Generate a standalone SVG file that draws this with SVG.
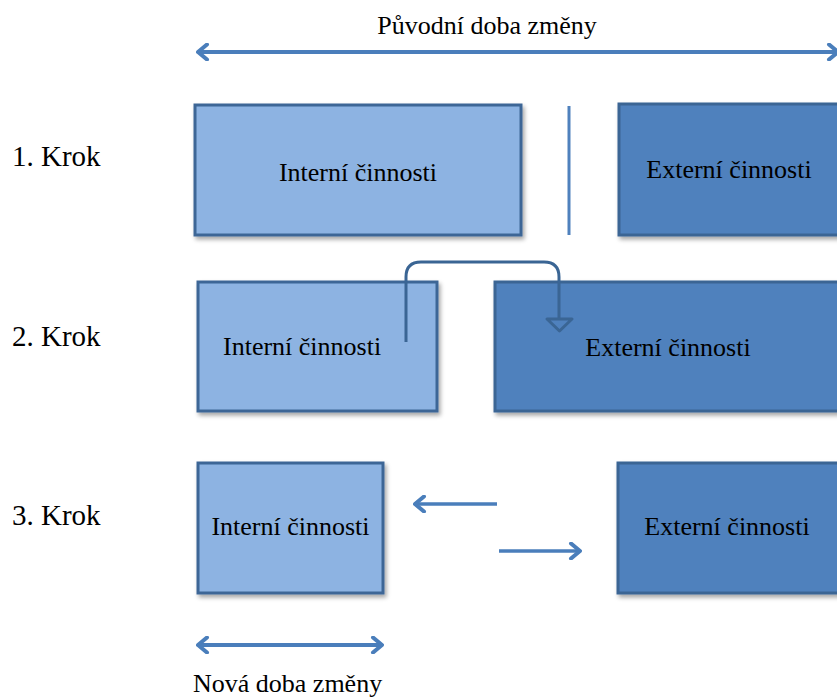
<svg xmlns="http://www.w3.org/2000/svg" width="837" height="697" viewBox="0 0 837 697">
  <style>
    text { font-family: "Liberation Serif", "DejaVu Serif", "Times New Roman", Times, serif; fill: #000; }
    .lbl { font-size: 26px; }
    .step { font-size: 29px; }
    .int { fill: #8DB3E2; stroke: #3C6696; stroke-width: 3; filter: url(#shadow); }
    .ext { fill: #4F81BD; stroke: #3A6594; stroke-width: 3; filter: url(#shadow); }
    .span { stroke: #4A7EBB; stroke-width: 4; fill: none; }
    .move { stroke: #4A7EBB; stroke-width: 3.5; fill: none; }
    .bend { stroke: #3A6594; stroke-width: 3; fill: none; }
  </style>
  <defs>
    <filter id="shadow" x="-10%" y="-10%" width="130%" height="130%">
      <feDropShadow dx="2" dy="3" stdDeviation="2" flood-color="#000" flood-opacity="0.35"/>
    </filter>
    <marker id="chev" viewBox="0 0 14 18" refX="12" refY="9" markerWidth="14" markerHeight="18" markerUnits="userSpaceOnUse" orient="auto-start-reverse">
      <path d="M3,1.5 L12,9 L3,16.5" fill="none" stroke="#4A7EBB" stroke-width="4" stroke-linecap="round" stroke-linejoin="round"/>
    </marker>
  </defs>

  <rect width="837" height="697" fill="#fff"/>

  <!-- time span labels -->
  <g id="original-time">
    <text class="lbl" font-family="Liberation Serif, serif" x="487" y="34" text-anchor="middle">Původní doba změny</text>
  </g>
  <g id="new-time">
    <text class="lbl" font-family="Liberation Serif, serif" x="193" y="692">Nová doba změny</text>
  </g>

  <!-- step labels -->
  <g id="step1"><text class="step" font-family="Liberation Serif, serif" x="12" y="166">1. Krok</text></g>
  <g id="step2"><text class="step" font-family="Liberation Serif, serif" x="12" y="346">2. Krok</text></g>
  <g id="step3"><text class="step" font-family="Liberation Serif, serif" x="12" y="525">3. Krok</text></g>

  <!-- step 1 -->
  <g id="int1">
    <rect class="int" x="195" y="105" width="326" height="130"/>
    <text class="lbl" font-family="Liberation Serif, serif" x="358" y="181" text-anchor="middle">Interní činnosti</text>
  </g>
  <g id="ext1">
    <rect class="ext" x="619" y="104" width="240" height="131"/>
    <text class="lbl" font-family="Liberation Serif, serif" x="729" y="178" text-anchor="middle">Externí činnosti</text>
  </g>

  <!-- step 2 -->
  <g id="int2">
    <rect class="int" x="198" y="282" width="239" height="129"/>
    <text class="lbl" font-family="Liberation Serif, serif" x="223" y="355">Interní činnosti</text>
  </g>
  <g id="ext2">
    <rect class="ext" x="495" y="282" width="364" height="129"/>
    <text class="lbl" font-family="Liberation Serif, serif" x="668" y="356" text-anchor="middle">Externí činnosti</text>
  </g>

  <!-- step 3 -->
  <g id="int3">
    <rect class="int" x="198" y="463" width="185" height="130"/>
    <text class="lbl" font-family="Liberation Serif, serif" x="290.5" y="535" text-anchor="middle">Interní činnosti</text>
  </g>
  <g id="ext3">
    <rect class="ext" x="618" y="463" width="241" height="130"/>
    <text class="lbl" font-family="Liberation Serif, serif" x="727" y="535" text-anchor="middle">Externí činnosti</text>
  </g>

  <!-- connectors -->
  <g id="connectors">
    <line class="span" x1="198" y1="52" x2="838" y2="52" marker-start="url(#chev)" marker-end="url(#chev)"/>
    <line class="span" x1="198" y1="645" x2="382" y2="645" marker-start="url(#chev)" marker-end="url(#chev)"/>
    <line x1="569" y1="106" x2="569" y2="235" stroke="#4F81BD" stroke-width="3"/>
    <path class="bend" d="M406,342 V277 Q406,262 421,262 H544 Q559,262 559,277 V319"/>
    <polygon points="547,319 572,319 559.5,331" fill="#4F81BD" stroke="#3A6594" stroke-width="3" stroke-linejoin="round"/>
    <line class="move" x1="497" y1="504" x2="415" y2="504" marker-end="url(#chev)"/>
    <line class="move" x1="499" y1="551" x2="580" y2="551" marker-end="url(#chev)"/>
  </g>
</svg>
